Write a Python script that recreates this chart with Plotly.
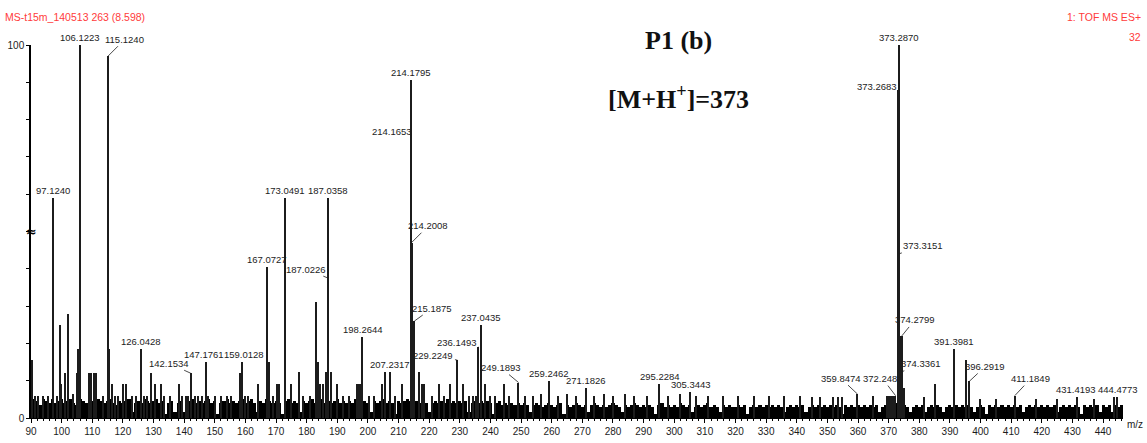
import plotly.graph_objects as go

# ---------------- data ----------------
peak_mz = [97.1240, 106.1223, 115.1240, 126.0428, 142.1534, 147.1761, 159.0128,
           167.0727, 173.0491, 187.0358, 187.0226, 198.2644, 207.2317, 214.1795,
           214.1653, 214.2008, 215.1875, 229.2249, 236.1493, 237.0435, 249.1893,
           259.2462, 271.1826, 295.2284, 305.3443, 359.8474, 372.2488, 373.2870,
           373.2683, 373.3151, 374.2799, 374.3361, 391.3981, 396.2919, 411.1849,
           431.4193, 444.4773]
peak_int = [59, 100, 97, 18.5, 12, 15, 15,
            40.5, 59, 59, 37.5, 21.7, 12.4, 90.5,
            75.6, 47, 26, 15.5, 19, 25, 9.5,
            10, 8, 9, 7, 6.4, 6, 100,
            88, 44, 22, 12.4, 18.5, 9.8, 6,
            5.7, 5.7]
peak_label = ["97.1240", "106.1223", "115.1240", "126.0428", "142.1534", "147.1761", "159.0128",
              "167.0727", "173.0491", "187.0358", "187.0226", "198.2644", "207.2317", "214.1795",
              "214.1653", "214.2008", "215.1875", "229.2249", "236.1493", "237.0435", "249.1893",
              "259.2462", "271.1826", "295.2284", "305.3443", "359.8474", "372.2488", "373.2870",
              "373.2683", "373.3151", "374.2799", "374.3361", "391.3981", "396.2919", "411.1849",
              "431.4193", "444.4773"]

minor_mz = [90.5, 91.3, 92.5, 94.0, 95.5, 98.5, 99.6, 100.0, 101.2, 102.0, 103.9, 105.0,
            105.5, 109.1, 109.8, 110.5, 111.2, 113.5, 115.4, 116.4, 117.5, 118.5, 120.2,
            121.1, 123.0, 124.5, 127.0, 128.0, 129.3, 130.4, 132.4, 133.5, 135.5, 138.4,
            139.5, 140.5, 141.3, 143.5, 144.5, 146.0, 148.0, 150.0, 152.0, 154.0, 155.5,
            158.3, 160.0, 161.0, 164.3, 167.8, 169.0, 170.3, 171.1, 173.0, 175.0, 177.4,
            179.0, 181.0, 183.2, 183.6, 184.4, 185.3, 186.3, 188.1, 190.1, 192.0, 194.0,
            196.4, 197.0, 197.5, 200.5, 202.0, 204.6, 205.5, 209.0, 211.1, 214.3, 214.5,
            216.6, 217.7, 218.5, 221.0, 223.1, 225.0, 226.9, 231.1, 233.0, 234.5, 235.2,
            238.4, 240.0, 241.5, 244.4, 246.0, 251.4, 254.0, 256.5, 262.0, 265.0, 268.0,
            274.0, 277.0, 280.0, 284.0, 287.0, 291.0, 298.0, 302.0, 307.0, 311.0, 316.0,
            321.0, 326.0, 331.0, 336.0, 341.0, 345.1, 347.6, 352.0, 353.6, 354.7, 365.0,
            369.5, 370.2, 370.9, 371.5, 373.6, 375.0, 381.6, 385.2, 395.4, 400.0, 405.0,
            418.0, 425.0, 437.0, 443.5]
minor_int = [15.5, 6, 6, 6, 6, 6, 25, 9, 12, 28, 6.5, 12,
             18.5, 12, 12, 12, 12, 6, 18.5, 9, 6, 6, 9,
             9, 6, 6, 6, 6, 12, 9, 9, 6, 6, 9,
             6, 6, 6, 6, 6, 6, 6, 6, 6, 6, 6,
             12, 6, 6, 9, 15, 6, 9, 9, 12, 9, 12.4,
             6, 6, 31, 15, 9, 9, 12.4, 12.4, 9, 6, 6,
             9, 9, 9, 6, 6, 9, 12.4, 6, 9, 47, 47,
             12.4, 9, 9, 6, 9, 6, 9, 9, 6, 6, 6,
             9, 6, 6, 9, 6, 6, 6, 6.5, 6, 6.5, 6,
             6, 6.5, 6, 6.5, 6, 6, 6, 6.5, 6, 6, 6,
             6, 6, 6, 6, 6, 5.7, 5.7, 5.7, 5.7, 5.7, 6,
             6, 6, 6, 6, 22, 8, 5.7, 9, 15.5, 5, 5,
             5, 5, 5, 5.7]

noise_start = 90
noise_int = [
    4.0, 5.0, 4.5, 3.5, 5.0, 4.5, 4.0, 5.0, 4.0, 4.5,
    5.0, 4.0, 4.5, 5.0, 4.0, 3.5, 5.0, 4.5, 4.0, 1.5,
    4.5, 4.0, 5.0, 4.5, 4.0, 4.5, 5.0, 4.0, 3.5, 4.5,
    4.0, 4.5, 5.0, 1.5, 4.0, 4.5, 4.0, 5.0, 4.5, 4.0,
    4.5, 5.0, 4.0, 4.5, 1.0, 4.0, 4.5, 1.5, 4.0, 4.5,
    1.5, 4.0, 4.5, 5.0, 4.0, 4.5, 4.0, 4.5, 5.0, 4.0,
    4.5, 1.0, 4.0, 4.5, 5.0, 4.0, 4.5, 4.0, 4.5, 5.0,
    4.0, 4.5, 5.0, 4.0, 1.5, 4.5, 4.0, 5.0, 4.5, 4.0,
    4.5, 4.0, 1.0, 4.5, 5.0, 4.0, 4.5, 4.0, 1.5, 4.5,
    4.0, 4.5, 5.0, 4.0, 4.5, 5.0, 4.0, 4.5, 4.0, 4.5,
    5.0, 4.0, 4.5, 4.0, 4.5, 4.0, 5.0, 4.5, 4.0, 4.5,
    4.0, 1.5, 4.5, 4.0, 4.5, 5.0, 4.0, 4.5, 4.0, 1.0,
    4.5, 4.0, 4.5, 5.0, 4.5, 5.0, 4.5, 4.0, 4.5, 4.0,
    1.5, 4.0, 4.5, 4.0, 4.5, 4.0, 5.0, 4.0, 4.5, 4.0,
    4.5, 4.0, 4.5, 1.5, 4.0, 4.5, 4.0, 4.5, 4.0, 4.5,
    4.0, 1.0, 4.0, 4.5, 3.5, 4.0, 3.5, 4.0, 3.5, 4.0,
    3.5, 4.0, 3.5, 1.5, 3.5, 4.0, 3.5, 3.0, 3.5, 4.0,
    3.5, 3.0, 3.5, 4.0, 1.0, 3.5, 3.0, 3.5, 4.0, 3.5,
    3.0, 3.5, 1.5, 3.5, 4.0, 3.5, 3.0, 3.5, 3.0, 3.5,
    4.0, 3.5, 3.0, 1.5, 3.5, 3.0, 3.5, 4.0, 3.5, 3.0,
    3.5, 3.0, 3.5, 3.0, 1.0, 3.5, 4.0, 3.0, 3.5, 3.0,
    3.5, 3.0, 4.0, 3.5, 3.0, 3.5, 1.5, 3.0, 3.5, 3.0,
    3.5, 4.0, 3.0, 3.5, 3.0, 1.5, 3.5, 3.0, 3.5, 3.0,
    3.0, 3.5, 3.0, 3.5, 1.0, 3.0, 3.5, 3.0, 3.5, 3.0,
    3.5, 3.0, 3.5, 3.0, 3.5, 3.0, 1.5, 3.0, 3.5, 3.0,
    3.5, 3.0, 3.5, 1.5, 3.0, 3.5, 3.0, 3.5, 3.0, 3.5,
    3.0, 3.5, 3.0, 3.5, 3.0, 1.0, 3.5, 3.0, 3.5, 3.0,
    3.5, 3.0, 3.5, 3.0, 3.5, 3.0, 3.5, 1.5, 3.0, 3.5,
    3.0, 3.5, 3.5, 4.0, 4.0, 3.5, 3.0, 1.5, 3.0, 3.5,
    3.0, 3.5, 1.5, 3.0, 3.5, 3.0, 3.5, 3.0, 1.5, 3.0,
    3.5, 3.0, 3.5, 3.0, 3.5, 3.0, 3.5, 3.0, 1.5, 3.0,
    3.5, 3.0, 1.0, 3.5, 3.0, 3.5, 3.0, 3.5, 3.0, 3.5,
    3.0, 3.5, 3.0, 3.5, 1.5, 3.0, 3.5, 3.0, 3.5, 3.0,
    3.5, 3.0, 3.5, 3.0, 3.5, 1.5, 3.0, 3.5, 3.0, 3.5,
    3.0, 3.5, 3.0, 1.0, 3.5, 3.0, 3.5, 3.0, 3.5, 1.5,
    3.5, 3.0, 3.5, 1.5, 3.5, 3.0, 3.5,
]
noise_mz = [noise_start + i for i in range(len(noise_int))]

x_ticks = list(range(90, 441, 10))
y_ticks = list(range(0, 101, 10))
y_ticktext = ["0"] + [""] * 9 + ["100"]

# ---------------- styles ----------------
SANS = "Liberation Sans, Arial, sans-serif"
SERIF = "Liberation Serif, Times New Roman, serif"
INK = "#1c1c1c"
RED = "#ff3b3b"
LABEL_SIZE = 9.5

# label offsets (px) for labels drawn with a leader line
leader = {
    "115.1240": (17, -17), "142.1534": (-22, -10), "187.0226": (-22, -9),
    "214.1653": (-19, -5), "214.2008": (17, -17), "215.1875": (18, -13),
    "229.2249": (-24, -5), "236.1493": (-22, -5), "249.1893": (-18, -15),
    "373.2683": (-22, -3), "373.3151": (24, -8), "374.2799": (13, -16),
    "374.3361": (19, -8), "396.2919": (16, -15), "359.8474": (-17, -16),
    "372.2488": (-13, -17), "411.1849": (16, -17),
}
# small horizontal nudges for plain labels that crowd each other
nudge = {"147.1761": -2, "159.0128": 2, "431.4193": -1, "444.4773": 1}

fig = go.Figure()
fig.add_trace(go.Bar(x=noise_mz, y=noise_int, width=1.0,
                     marker=dict(color="#000000", line=dict(width=0)), hoverinfo="skip"))
fig.add_trace(go.Bar(x=minor_mz, y=minor_int, width=0.45,
                     marker=dict(color=INK, line=dict(width=0)), hoverinfo="skip"))
fig.add_trace(go.Bar(x=peak_mz, y=peak_int, width=0.45,
                     marker=dict(color=INK, line=dict(width=0))))

ann = []
for mz, h, lab in zip(peak_mz, peak_int, peak_label):
    if lab in leader:
        ax, ay = leader[lab]
        ann.append(dict(x=mz, y=h, text=lab, showarrow=True, arrowhead=0, arrowwidth=0.8,
                        arrowcolor=INK, ax=ax, ay=ay, standoff=0,
                        font=dict(family=SANS, size=LABEL_SIZE, color=INK)))
    else:
        ann.append(dict(x=mz, y=h, text=lab, showarrow=False, yanchor="bottom", yshift=0,
                        xshift=nudge.get(lab, 0),
                        font=dict(family=SANS, size=LABEL_SIZE, color=INK)))

ann += [
    dict(xref="paper", yref="paper", x=0.593, y=1.013, text="<b>P1 (b)</b>", showarrow=False,
         xanchor="center", yanchor="middle", font=dict(family=SERIF, size=26, color="#111")),
    dict(xref="paper", yref="paper", x=0.593, y=0.858, text="<b>[M+H<sup>+</sup>]=373</b>",
         showarrow=False, xanchor="center", yanchor="middle",
         font=dict(family=SERIF, size=26, color="#111")),
    dict(xref="paper", yref="paper", x=-0.026, y=1.075, text="MS-t15m_140513 263 (8.598)",
         showarrow=False, xanchor="left", yanchor="middle",
         font=dict(family=SANS, size=10.5, color=RED)),
    dict(xref="paper", yref="paper", x=1.018, y=1.075, text="1: TOF MS ES+",
         showarrow=False, xanchor="right", yanchor="middle",
         font=dict(family=SANS, size=10.5, color=RED)),
    dict(xref="paper", yref="paper", x=1.018, y=1.022, text="32",
         showarrow=False, xanchor="right", yanchor="middle",
         font=dict(family=SANS, size=10.5, color=RED)),
    dict(xref="paper", yref="paper", x=1.002, y=-0.018, text="m/z",
         showarrow=False, xanchor="left", yanchor="middle",
         font=dict(family=SANS, size=10, color=INK)),
    dict(xref="paper", yref="y", x=0, y=50, text="<b>≈</b>",
         showarrow=False, xanchor="center", yanchor="middle",
         font=dict(family="DejaVu Sans", size=13, color="#000")),
]

fig.update_layout(
    width=1147, height=443,
    margin=dict(l=31, r=24, t=45, b=25, autoexpand=False),
    paper_bgcolor="white", plot_bgcolor="white",
    barmode="overlay", bargap=0, showlegend=False,
    annotations=ann,
    xaxis=dict(range=[90, 446.5], tickvals=x_ticks, ticks="outside", ticklen=4,
               tickwidth=1, tickcolor="#000", showline=True, linecolor="#000", linewidth=1,
               showgrid=False, zeroline=False, automargin=False,
               minor=dict(dtick=2, tick0=90, ticks="outside", ticklen=2, tickcolor="#000"),
               tickfont=dict(family=SANS, size=10, color=INK)),
    yaxis=dict(range=[0, 100], tickvals=y_ticks, ticktext=y_ticktext, ticks="outside",
               ticklen=3, tickcolor="#000", showline=True, linecolor="#000", linewidth=1.5,
               showgrid=False, zeroline=False, automargin=False,
               tickfont=dict(family=SANS, size=10, color=INK)),
)

fig.write_html("out.html", config={"displayModeBar": False},
               post_script="document.body.style.margin='0';document.body.style.padding='0';")
